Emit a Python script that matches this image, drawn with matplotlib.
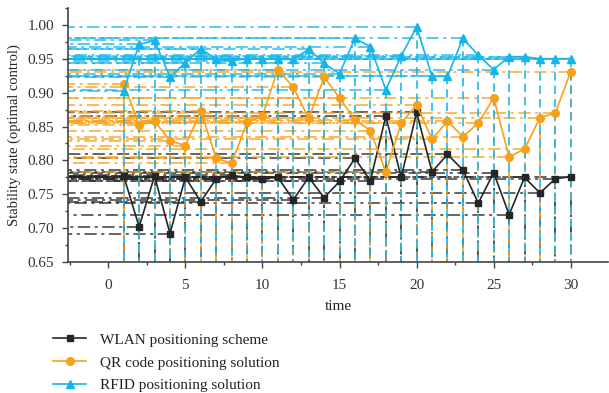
import numpy as np
from matplotlib import pyplot as plt
from matplotlib.ticker import MultipleLocator

# data
t = list(range(1, 31))
wlan = [0.777, 0.702, 0.777, 0.692, 0.775, 0.739, 0.773, 0.778, 0.775, 0.773,
        0.775, 0.742, 0.775, 0.745, 0.769, 0.803, 0.770, 0.865, 0.775, 0.871,
        0.783, 0.809, 0.786, 0.737, 0.782, 0.720, 0.775, 0.752, 0.773, 0.776]
qr = [0.913, 0.852, 0.858, 0.829, 0.822, 0.873, 0.803, 0.796, 0.856, 0.866,
      0.934, 0.908, 0.862, 0.923, 0.892, 0.860, 0.844, 0.783, 0.855, 0.882,
      0.831, 0.858, 0.835, 0.855, 0.892, 0.805, 0.817, 0.863, 0.870, 0.931]
rfid = [0.903, 0.971, 0.977, 0.923, 0.944, 0.965, 0.949, 0.947, 0.950, 0.950,
        0.949, 0.949, 0.964, 0.943, 0.928, 0.980, 0.968, 0.904, 0.954, 0.997,
        0.924, 0.924, 0.980, 0.955, 0.934, 0.953, 0.953, 0.950, 0.950, 0.950]

labels = ['WLAN positioning scheme', 'QR code positioning solution',
          'RFID positioning solution']
colors = ['#262626', '#f7a11a', '#15b5ea']
markers = ['s', 'o', '^']
msizes = [4.5, 5.5, 5.5]

XMIN, XMAX = -2.6, 32.4
YMIN, YMAX = 0.65, 1.025

plt.rcParams['font.family'] = 'Liberation Serif'

fig = plt.figure(figsize=(6.09, 3.93), dpi=100)
ax = fig.add_axes([0.112, 0.333, 0.886, 0.647])

## drop lines (point -> left axis, point -> bottom axis)
series = [wlan, qr, rfid]
vdash = [(6, 3, 1.5, 3), (5, 3), (5, 3)]
for vals, c, vd in zip(series, colors, vdash):
    for x, y in zip(t, vals):
        ax.plot([x, XMIN], [y, y], color=c, lw=1.1, dashes=(8, 3, 2, 3), alpha=0.9)
        ax.plot([x, x], [y, YMIN], color=c, lw=1.2, dashes=vd, alpha=0.95)

## the series themselves
for vals, c, m, ms, lab in zip(series, colors, markers, msizes, labels):
    ax.plot(t, vals, color=c, lw=1.2, marker=m, markersize=ms, label=lab)

ax.set_xlim(XMIN, XMAX)
ax.set_ylim(YMIN, YMAX)
ax.xaxis.set_major_locator(MultipleLocator(5))
ax.xaxis.set_minor_locator(MultipleLocator(2.5))
ax.yaxis.set_minor_locator(MultipleLocator(0.025))
ax.set_yticks(np.arange(0.65, 1.001, 0.05))
ax.set_yticklabels(['%.2f' % v for v in np.arange(0.65, 1.001, 0.05)])
ax.tick_params(axis='both', which='major', labelsize=11, length=4, width=1,
               color='#444444', labelcolor='#333333')
ax.tick_params(axis='x', which='major', pad=8)
ax.tick_params(axis='y', which='major', pad=6)
ax.tick_params(axis='both', which='minor', length=2.5, width=1, color='#444444')
for s in ['top', 'right']:
    ax.spines[s].set_visible(False)
for s in ['left', 'bottom']:
    ax.spines[s].set_color('#444444')
    ax.spines[s].set_linewidth(1.2)

ax.set_xlabel('time', fontsize=11, labelpad=6, color='#222222')
ax.set_ylabel('Stability state (optimal control)', fontsize=10.5, labelpad=5,
              color='#222222')

leg = ax.legend(loc='upper left', bbox_to_anchor=(-0.04, -0.255), frameon=False,
                fontsize=11, handlelength=2.2, labelspacing=0.6, handletextpad=0.9,
                borderaxespad=0)
for txt in leg.get_texts():
    txt.set_color('#222222')

plt.savefig('out.png', dpi=100)
